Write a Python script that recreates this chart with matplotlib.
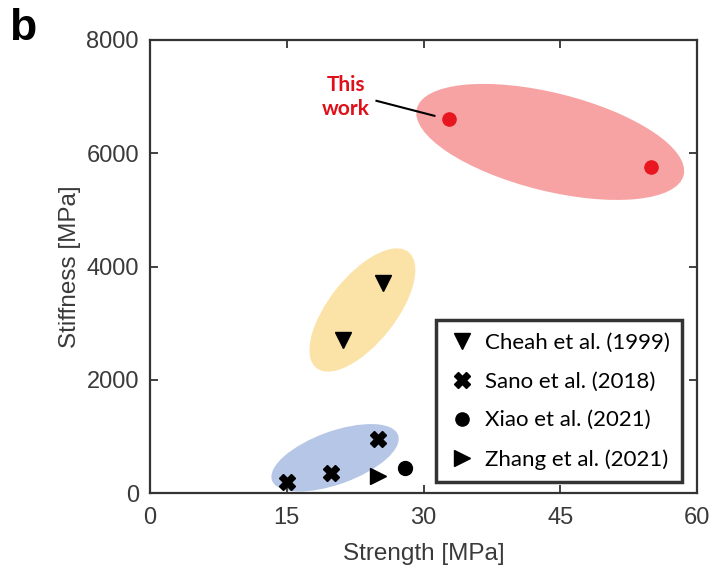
import matplotlib
matplotlib.use("Agg")
import matplotlib.pyplot as plt
from matplotlib.patches import Ellipse
from matplotlib.transforms import Affine2D

# Strength [MPa] / Stiffness [MPa]
this_work_x = [32.8, 55.0]
this_work_y = [6600, 5760]
cheah_x = [21.2, 25.6]
cheah_y = [2700, 3700]
sano_x = [15.0, 19.9, 25.0]
sano_y = [200, 360, 950]
xiao_x = [28.0]
xiao_y = [440]
zhang_x = [25.0]
zhang_y = [300]

series_labels = ["Cheah et al. (1999)", "Sano et al. (2018)",
                 "Xiao et al. (2021)", "Zhang et al. (2021)"]
x_ticks = [0, 15, 30, 45, 60]
y_ticks = [0, 2000, 4000, 6000, 8000]

# group outlines: centre (x, y), width/height in screen units, angle in degrees
groups = [
    ((43.9, 6200), 275, 98, -14, "#f7a3a4"),
    ((23.3, 3232), 148, 67, 51.6, "#fbe3a8"),
    ((20.3, 622), 134, 53, 19.8, "#b6c6e6"),
]

fig = plt.figure(figsize=(7.12, 5.73), dpi=100)
ax = fig.add_axes([150 / 712, 1 - 493 / 573, 547 / 712, 453 / 573])
ax.set_xlim(0, 60)
ax.set_ylim(0, 8000)

# screen-like units so ellipses keep their shape on the stretched axes
kx = 547 / 60
ky = 453 / 8000
screen = Affine2D().scale(1 / kx, 1 / ky) + ax.transData
for (cx, cy), w, h, ang, col in groups:
    e = Ellipse((cx * kx, cy * ky), w, h, angle=ang, facecolor=col,
                edgecolor="none", transform=screen, zorder=1)
    ax.add_patch(e)

ax.plot(this_work_x, this_work_y, "o", color="#e8161f", ms=9.5, zorder=3)
ax.plot(cheah_x, cheah_y, "v", color="black", ms=12, zorder=3, label=series_labels[0])
ax.plot(sano_x, sano_y, "X", color="black", ms=12, zorder=3, label=series_labels[1])
ax.plot(xiao_x, xiao_y, "o", color="black", ms=10, zorder=3, label=series_labels[2])
ax.plot(zhang_x, zhang_y, ">", color="black", ms=12, zorder=3, label=series_labels[3])

# callout for this work
ax.plot([24.84, 31.2], [6926, 6661], color="black", lw=1.5, zorder=3)
ax.text(21.5, 6990, "This\nwork", color="#e0101a", fontsize=15, fontweight="bold",
        family="Lato", ha="center", va="center", linespacing=1.25)

ax.set_xticks(x_ticks)
ax.set_yticks(y_ticks)
ax.tick_params(direction="in", length=6, width=1.3, top=True, right=True,
               labelsize=17, colors="#333333")
ax.tick_params(axis="x", pad=10)
ax.tick_params(axis="y", pad=8)
for lab in ax.get_xticklabels() + ax.get_yticklabels():
    lab.set_family("Liberation Sans")
    lab.set_color("#3a3a3a")
for s in ax.spines.values():
    s.set_linewidth(1.6)
    s.set_color("#333333")

ax.set_xlabel("Strength [MPa]", fontsize=17.5, family="Liberation Sans", color="#3a3a3a", labelpad=10)
ax.set_ylabel("Stiffness [MPa]", fontsize=17.5, family="Liberation Sans", color="#3a3a3a", labelpad=4)

leg = ax.legend(loc="lower right", bbox_to_anchor=(0.9726, 0.0243), borderaxespad=0,
                frameon=True, fancybox=False,
                prop={"family": "Lato", "size": 16}, handletextpad=0.45, borderpad=0.55,
                labelspacing=0.85, handlelength=1.2, markerscale=0.95)
leg.get_frame().set_edgecolor("black")
leg.get_frame().set_linewidth(2.5)

fig.text(9 / 712, 1 - 28 / 573, "b", fontsize=32, fontweight="bold", family="Liberation Sans",
         va="center", ha="left")

fig.savefig("out.png", dpi=100)
